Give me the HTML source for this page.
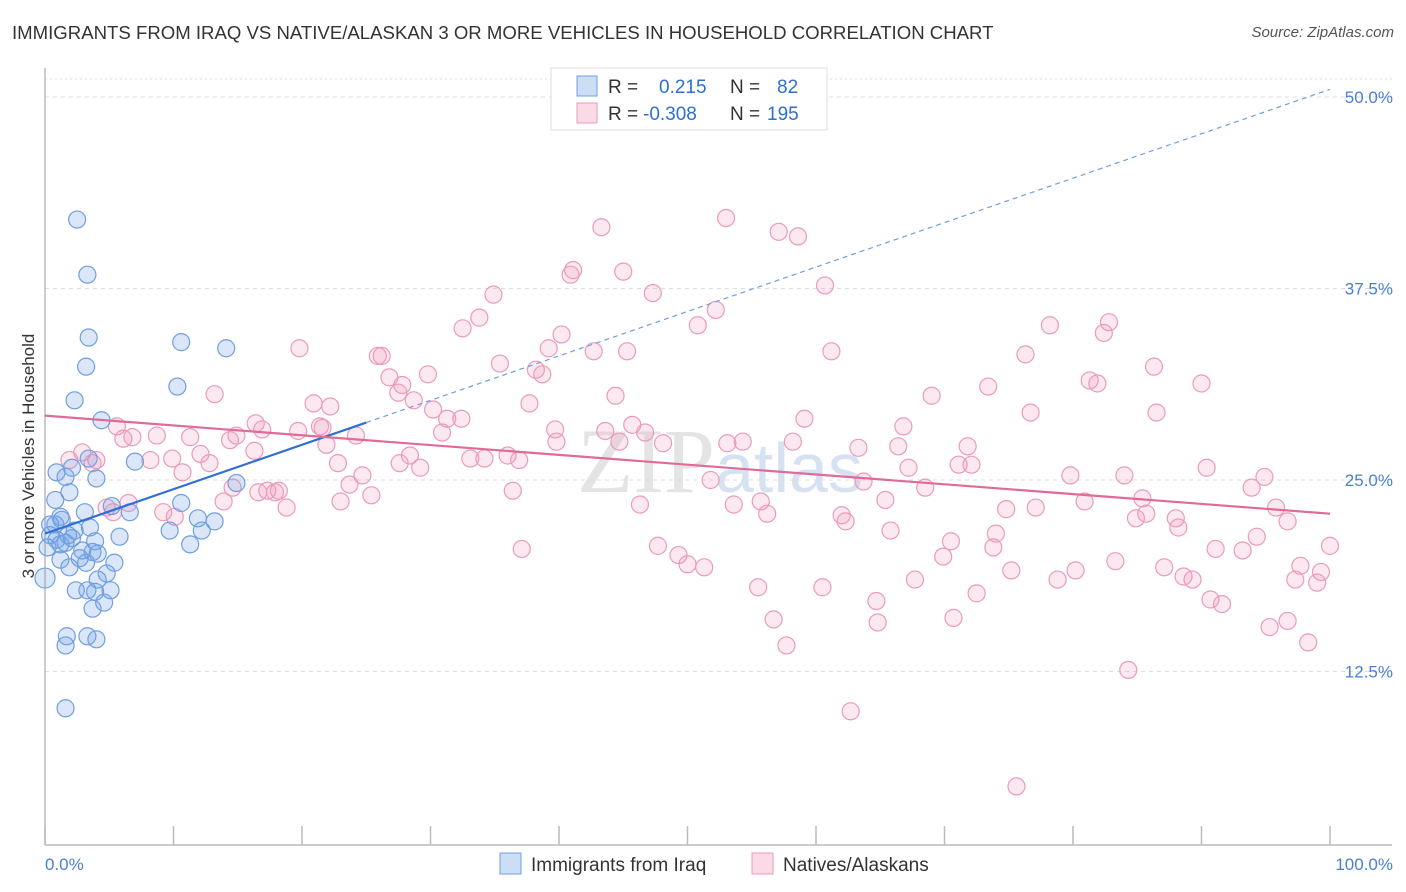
<!DOCTYPE html>
<html><head><meta charset="utf-8">
<style>
body{margin:0;background:#fff;font-family:"Liberation Sans",sans-serif;}
#wrap{position:relative;width:1406px;height:892px;overflow:hidden;}
.t{position:absolute;white-space:nowrap;}
</style></head>
<body>
<div id="wrap">
<div class="t" style="left:12px;top:22px;font-size:18.6px;color:#333;">IMMIGRANTS FROM IRAQ VS NATIVE/ALASKAN 3 OR MORE VEHICLES IN HOUSEHOLD CORRELATION CHART</div>
<div class="t" style="right:12px;top:24px;font-size:15px;color:#555;font-style:italic;">Source: ZipAtlas.com</div>
<svg id="svg" width="1406" height="892" style="position:absolute;left:0;top:0"></svg>
</div>
<script>
const xTickVals=[0,10,20,30,40,50,60,70,80,90,100];
const yTickVals=[12.5,25,37.5,50];
const yTickLabels=["12.5%","25.0%","37.5%","50.0%"];
const blueX=[2.5,3.3,3.4,3.2,10.6,14.1,10.3,2.3,4.4,7.0,3.4,2.1,4.0,0.9,1.6,1.9,0.8,5.2,6.6,10.6,3.1,1.2,1.3,0.8,9.7,11.9,13.2,12.2,3.5,1.8,2.1,0.4,0.9,1.6,5.8,3.9,11.3,1.2,0.2,2.9,3.7,4.1,2.7,5.4,1.9,3.2,4.8,4.1,3.3,2.4,3.9,5.1,4.6,3.7,0,1.7,3.3,4.0,1.6,1.6,14.9,0.4,2.3,1.2];
const blueY=[42.0,38.4,34.3,32.4,34.0,33.6,31.1,30.2,28.9,26.2,26.4,25.8,25.1,25.5,25.2,24.2,23.7,23.3,22.9,23.5,22.9,22.6,22.4,22.1,21.7,22.5,22.3,21.7,21.9,21.4,21.2,21.4,21.1,20.9,21.3,21.0,20.8,20.8,20.6,20.4,20.3,20.2,19.9,19.6,19.3,19.6,18.9,18.5,17.8,17.8,17.7,17.8,17.0,16.6,18.6,14.8,14.8,14.6,14.2,10.1,24.8,22.1,21.7,19.8];
const pinkX=[53.0,43.3,57.1,58.6,41.1,45.0,40.9,34.9,47.3,60.7,33.8,52.2,32.5,50.8,78.2,82.8,82.4,40.2,39.2,42.7,45.3,19.8,61.2,76.3,25.9,26.2,35.4,86.3,38.2,29.8,38.7,26.8,81.3,81.9,90.0,73.4,27.8,27.5,13.2,44.4,28.7,37.7,20.9,22.2,69.0,30.2,76.7,86.5,59.1,31.3,32.4,21.6,39.7,43.6,45.7,66.8,14.9,5.6,6.1,16.9,16.4,21.4,6.8,8.7,11.3,14.4,19.7,24.2,46.7,53.1,54.3,58.2,48.1,30.9,39.8,44.7,66.4,63.3,71.8,2.9,8.2,12.1,12.8,16.3,21.9,28.4,36.0,33.1,34.2,36.9,29.2,9.9,4.0,1.9,3.7,10.7,22.8,24.7,27.6,67.2,71.1,72.1,90.4,79.8,84.0,94.9,51.8,63.7,68.5,93.9,14.6,16.6,17.9,18.2,36.4,23.7,17.3,23.0,25.4,13.9,18.8,6.5,4.8,5.3,46.3,53.6,55.7,65.4,74.8,77.1,80.9,85.4,95.8,85.7,9.2,10.1,56.2,62.0,62.3,84.9,88.0,96.7,88.2,65.8,74.0,70.5,94.3,47.7,37.1,73.8,49.3,50.0,51.3,69.9,93.2,100.0,91.1,83.3,97.7,87.1,75.2,78.8,80.2,99.3,55.5,60.5,67.7,88.6,89.3,97.3,99.0,72.5,90.7,91.6,64.7,56.7,70.7,96.7,95.3,64.8,57.7,98.3,84.3,62.7,75.6];
const pinkY=[42.1,41.5,41.2,40.9,38.7,38.6,38.4,37.1,37.2,37.7,35.6,36.1,34.9,35.1,35.1,35.3,34.6,34.5,33.6,33.4,33.4,33.6,33.4,33.2,33.1,33.1,32.6,32.4,32.2,31.9,31.9,31.7,31.5,31.3,31.3,31.1,31.2,30.7,30.6,30.5,30.2,30.0,30.0,29.8,30.5,29.6,29.4,29.4,29.0,29.0,29.0,28.4,28.3,28.2,28.6,28.5,27.9,28.5,27.7,28.3,28.7,28.5,27.8,27.9,27.8,27.6,28.2,27.9,28.1,27.4,27.5,27.5,27.4,28.1,27.5,27.5,27.2,27.1,27.2,26.8,26.3,26.7,26.1,26.9,27.3,26.6,26.6,26.4,26.4,26.3,25.8,26.4,26.3,26.3,26.1,25.5,26.1,25.3,26.1,25.8,26.0,26.0,25.8,25.3,25.3,25.2,25.0,24.9,24.5,24.5,24.5,24.2,24.2,24.3,24.3,24.7,24.3,23.6,24.0,23.6,23.2,23.5,23.2,22.9,23.4,23.4,23.6,23.7,23.1,23.2,23.6,23.8,23.2,22.8,22.9,22.6,22.8,22.7,22.3,22.5,22.5,22.3,21.9,21.7,21.5,21.0,21.3,20.7,20.5,20.6,20.1,19.5,19.3,20.0,20.4,20.7,20.5,19.7,19.4,19.3,19.1,18.5,19.1,19.0,18.0,18.0,18.5,18.7,18.5,18.5,18.3,17.6,17.2,16.9,17.1,15.9,16.0,15.8,15.4,15.7,14.2,14.4,12.6,9.9,5.0];
const blueTrend=[21.5,0.29]; // intercept, slope
const pinkTrend=[29.2,-0.064];

const X0=45,X1=1330,Y0=863,PXY=15.32;
const sx=v=>X0+(X1-X0)*v/100;
const sy=v=>Y0-v*PXY;
const svg=document.getElementById('svg');
const NS='http://www.w3.org/2000/svg';
function mk(tag,attrs,parent){const e=document.createElementNS(NS,tag);for(const k in attrs)e.setAttribute(k,attrs[k]);(parent||svg).appendChild(e);return e;}

let wm=mk('text',{x:720,y:492,'text-anchor':'middle','font-size':'92','font-family':'Liberation Serif,serif',fill:'#e4e4e4'});


wm.innerHTML='ZIP<tspan fill="#d6e2f2" font-family="Liberation Sans,sans-serif" font-size="70">atlas</tspan>';

let gl=mk('line',{x1:45,x2:1392,y1:79,y2:79,stroke:'#ddd','stroke-dasharray':'2,3'});


yTickVals.forEach((v,i)=>{
  const g=mk('line',{x1:45,x2:1392,y1:sy(v),y2:sy(v),stroke:'#ddd','stroke-dasharray':'4,4'});
  
  
  const t=mk('text',{x:1393,y:sy(v)+6,'text-anchor':'end','font-size':'17',fill:'#4a7fd4'});
  
  
  t.textContent=yTickLabels[i];
});
let ax=mk('line',{x1:45,x2:45,y1:68,y2:845,stroke:'#bbb','stroke-width':1.5});


let bx=mk('line',{x1:45,x2:1392,y1:845,y2:845,stroke:'#bbb','stroke-width':1.5});


xTickVals.forEach(v=>{
  const t=mk('line',{x1:sx(v),x2:sx(v),y1:826,y2:845,stroke:'#bbb','stroke-width':1.5});
  
  
});
let xl=mk('text',{x:45,y:870,'font-size':'17',fill:'#4a7fd4'});


xl.textContent='0.0%';
let xr=mk('text',{x:1393,y:870,'text-anchor':'end','font-size':'17',fill:'#4a7fd4'});


xr.textContent='100.0%';
let yt=mk('text',{x:34,y:456,'text-anchor':'middle','font-size':'17',fill:'#333',transform:'rotate(-90 34 456)'});


yt.textContent='3 or more Vehicles in Household';

pinkX.forEach((x,i)=>{
  const c=mk('circle',{cx:sx(x),cy:sy(pinkY[i]),r:8.5,fill:'rgba(240,150,185,0.22)',stroke:'#eb9bb9','stroke-width':1.2});
  
  
});
blueX.forEach((x,i)=>{
  const c=mk('circle',{cx:sx(x),cy:sy(blueY[i]),r:x===0?10:8.5,fill:'rgba(110,160,230,0.25)',stroke:'#6f9fe0','stroke-width':1.2});
  
  
});
const bt=x=>blueTrend[0]+blueTrend[1]*x, pt=x=>pinkTrend[0]+pinkTrend[1]*x;
let l1=mk('line',{x1:sx(0),y1:sy(bt(0)),x2:sx(25),y2:sy(bt(25)),stroke:'#2f6fd4','stroke-width':2.2});


let l2=mk('line',{x1:sx(25),y1:sy(bt(25)),x2:sx(100),y2:sy(bt(100)),stroke:'#6f9fe0','stroke-width':1.2,'stroke-dasharray':'5,4'});


let l3=mk('line',{x1:sx(0),y1:sy(pt(0)),x2:sx(100),y2:sy(pt(100)),stroke:'#e06a98','stroke-width':2.2});



let lg=mk('rect',{x:551,y:68,width:276,height:62,fill:'#fff',stroke:'#ddd'});


[['#6f9fe0','rgba(110,160,230,0.35)','0.215','82',86],['#eb9bb9','rgba(240,150,185,0.35)','-0.308','195',113]].forEach(r=>{
  const s=mk('rect',{x:577,y:r[4]-10,width:20,height:20,fill:r[1],stroke:r[0]});
  
  
  const t=mk('text',{x:608,y:r[4]+7,'font-size':'19',fill:'#333'});
  
  
  t.innerHTML='R = <tspan x="'+(r[2].length>5?643:659)+'" fill="#2f6fd4">'+r[2]+'</tspan><tspan x="730">N = </tspan><tspan x="'+(r[3].length>2?767:777)+'" fill="#2f6fd4">'+r[3]+'</tspan>';
});
[['#6f9fe0','rgba(110,160,230,0.35)',500,'Immigrants from Iraq'],['#eb9bb9','rgba(240,150,185,0.35)',752,'Natives/Alaskans']].forEach(r=>{
  const s=mk('rect',{x:r[2],y:853,width:21,height:21,fill:r[1],stroke:r[0]});
  
  
  const t=mk('text',{x:r[2]+31,y:871,'font-size':'19',fill:'#333'});
  
  
  t.textContent=r[3];
});
</script>
</body></html>
